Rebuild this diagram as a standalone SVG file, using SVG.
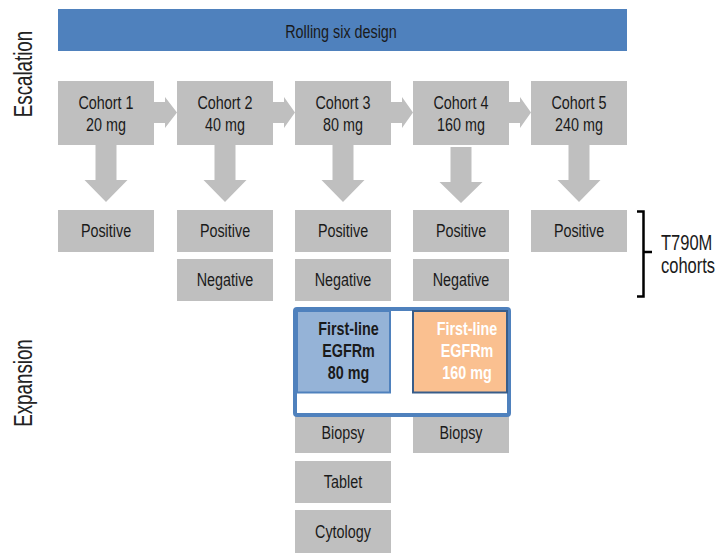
<svg xmlns="http://www.w3.org/2000/svg" width="719" height="553" viewBox="0 0 719 553">
<style>
.box{fill:#BFBFBF}
.t{font-family:"Liberation Sans",Arial,sans-serif;font-size:17.5px;fill:#1a1a1a;text-anchor:middle}
.b{font-weight:bold}
.w{fill:#ffffff}
.side{font-family:"Liberation Sans",Arial,sans-serif;font-size:25px;fill:#222222;text-anchor:middle}
.lab{font-family:"Liberation Sans",Arial,sans-serif;font-size:22px;fill:#1a1a1a}
.arr{fill:#BFBFBF}
</style>
<rect width="719" height="553" fill="#ffffff"/>
<g id="banner">
<rect x="58" y="9" width="569" height="42" fill="#4F81BD"/>
<text class="t" transform="translate(341,37.5) scale(0.82,1)">Rolling six design</text>
</g>
<g id="side-labels">
<text class="side" transform="translate(31.5,74) rotate(-90) scale(0.75,1)">Escalation</text>
<text class="side" transform="translate(31.5,383) rotate(-90) scale(0.75,1)">Expansion</text>
</g>
<g id="connectors">
<polygon class="arr" points="154,102 165,102 165,97 177,112.5 165,128 165,123 154,123"/>
<polygon class="arr" points="273,102 284,102 284,97 295,112.5 284,128 284,123 273,123"/>
<polygon class="arr" points="391,102 402,102 402,97 413,112.5 402,128 402,123 391,123"/>
<polygon class="arr" points="509,102 520,102 520,97 531,112.5 520,128 520,123 509,123"/>
<polygon class="arr" points="95.5,145 116.5,145 116.5,180 127.5,180 106,202 84.5,180 95.5,180"/>
<polygon class="arr" points="214.5,145 235.5,145 235.5,180 246.5,180 225,202 203.5,180 214.5,180"/>
<polygon class="arr" points="332.5,145 353.5,145 353.5,180 364.5,180 343,202 321.5,180 332.5,180"/>
<polygon class="arr" points="450.5,147 471.5,147 471.5,182 482.5,182 461,203 439.5,182 450.5,182"/>
<polygon class="arr" points="568.5,145 589.5,145 589.5,180 600.5,180 579,202 557.5,180 568.5,180"/>
</g>
<g id="cohort1"><rect class="box" x="58" y="81" width="96" height="64"/><text class="t" transform="translate(106,109) scale(0.82,1)">Cohort 1</text><text class="t" transform="translate(106,131) scale(0.82,1)">20 mg</text></g>
<g id="cohort2"><rect class="box" x="177" y="81" width="96" height="64"/><text class="t" transform="translate(225,109) scale(0.82,1)">Cohort 2</text><text class="t" transform="translate(225,131) scale(0.82,1)">40 mg</text></g>
<g id="cohort3"><rect class="box" x="295" y="81" width="96" height="64"/><text class="t" transform="translate(343,109) scale(0.82,1)">Cohort 3</text><text class="t" transform="translate(343,131) scale(0.82,1)">80 mg</text></g>
<g id="cohort4"><rect class="box" x="413" y="81" width="96" height="64"/><text class="t" transform="translate(461,109) scale(0.82,1)">Cohort 4</text><text class="t" transform="translate(461,131) scale(0.82,1)">160 mg</text></g>
<g id="cohort5"><rect class="box" x="531" y="81" width="96" height="64"/><text class="t" transform="translate(579,109) scale(0.82,1)">Cohort 5</text><text class="t" transform="translate(579,131) scale(0.82,1)">240 mg</text></g>
<g id="pos1"><rect class="box" x="58" y="210" width="96" height="42"/><text class="t" transform="translate(106,237) scale(0.82,1)">Positive</text></g>
<g id="pos2"><rect class="box" x="177" y="210" width="96" height="42"/><text class="t" transform="translate(225,237) scale(0.82,1)">Positive</text></g>
<g id="pos3"><rect class="box" x="295" y="210" width="96" height="42"/><text class="t" transform="translate(343,237) scale(0.82,1)">Positive</text></g>
<g id="pos4"><rect class="box" x="413" y="210" width="96" height="42"/><text class="t" transform="translate(461,237) scale(0.82,1)">Positive</text></g>
<g id="pos5"><rect class="box" x="531" y="210" width="96" height="42"/><text class="t" transform="translate(579,237) scale(0.82,1)">Positive</text></g>
<g id="neg2"><rect class="box" x="177" y="259" width="96" height="42"/><text class="t" transform="translate(225,286) scale(0.82,1)">Negative</text></g>
<g id="neg3"><rect class="box" x="295" y="259" width="96" height="42"/><text class="t" transform="translate(343,286) scale(0.82,1)">Negative</text></g>
<g id="neg4"><rect class="box" x="413" y="259" width="96" height="42"/><text class="t" transform="translate(461,286) scale(0.82,1)">Negative</text></g>
<g id="biopsy3"><rect class="box" x="295" y="411" width="96" height="42"/><text class="t" transform="translate(343,438.5) scale(0.82,1)">Biopsy</text></g>
<g id="biopsy4"><rect class="box" x="413" y="411" width="96" height="42"/><text class="t" transform="translate(461,438.5) scale(0.82,1)">Biopsy</text></g>
<g id="tablet3"><rect class="box" x="295" y="461" width="96" height="42"/><text class="t" transform="translate(343,488) scale(0.82,1)">Tablet</text></g>
<g id="cytology3"><rect class="box" x="295" y="510" width="96" height="43"/><text class="t" transform="translate(343,538) scale(0.82,1)">Cytology</text></g>
<g id="expansion-frame">
<rect x="295" y="309" width="214" height="106" rx="2" fill="#ffffff" stroke="#4F81BD" stroke-width="4"/>
</g>
<g id="firstline80">
<rect x="297" y="311" width="93" height="81.5" fill="#95B3D7" stroke="#4F81BD" stroke-width="2"/>
<text class="t b" transform="translate(348.5,335) scale(0.82,1)">First-line</text>
<text class="t b" transform="translate(348.5,357) scale(0.82,1)">EGFRm</text>
<text class="t b" transform="translate(348.5,378.5) scale(0.82,1)">80 mg</text>
</g>
<g id="firstline160">
<rect x="413" y="311" width="94" height="81.5" fill="#FAC090" stroke="#385D8A" stroke-width="2"/>
<text class="t b w" transform="translate(467,335) scale(0.82,1)">First-line</text>
<text class="t b w" transform="translate(467,357) scale(0.82,1)">EGFRm</text>
<text class="t b w" transform="translate(467,378.5) scale(0.82,1)">160 mg</text>
</g>
<g id="t790m-brace">
<path d="M637,211.5 H643.5 V296.5 H637 M643.5,252 H652" fill="none" stroke="#000000" stroke-width="2.5"/>
<text class="lab" transform="translate(661,250) scale(0.75,1)">T790M</text>
<text class="lab" transform="translate(661,272.5) scale(0.75,1)">cohorts</text>
</g>
</svg>
